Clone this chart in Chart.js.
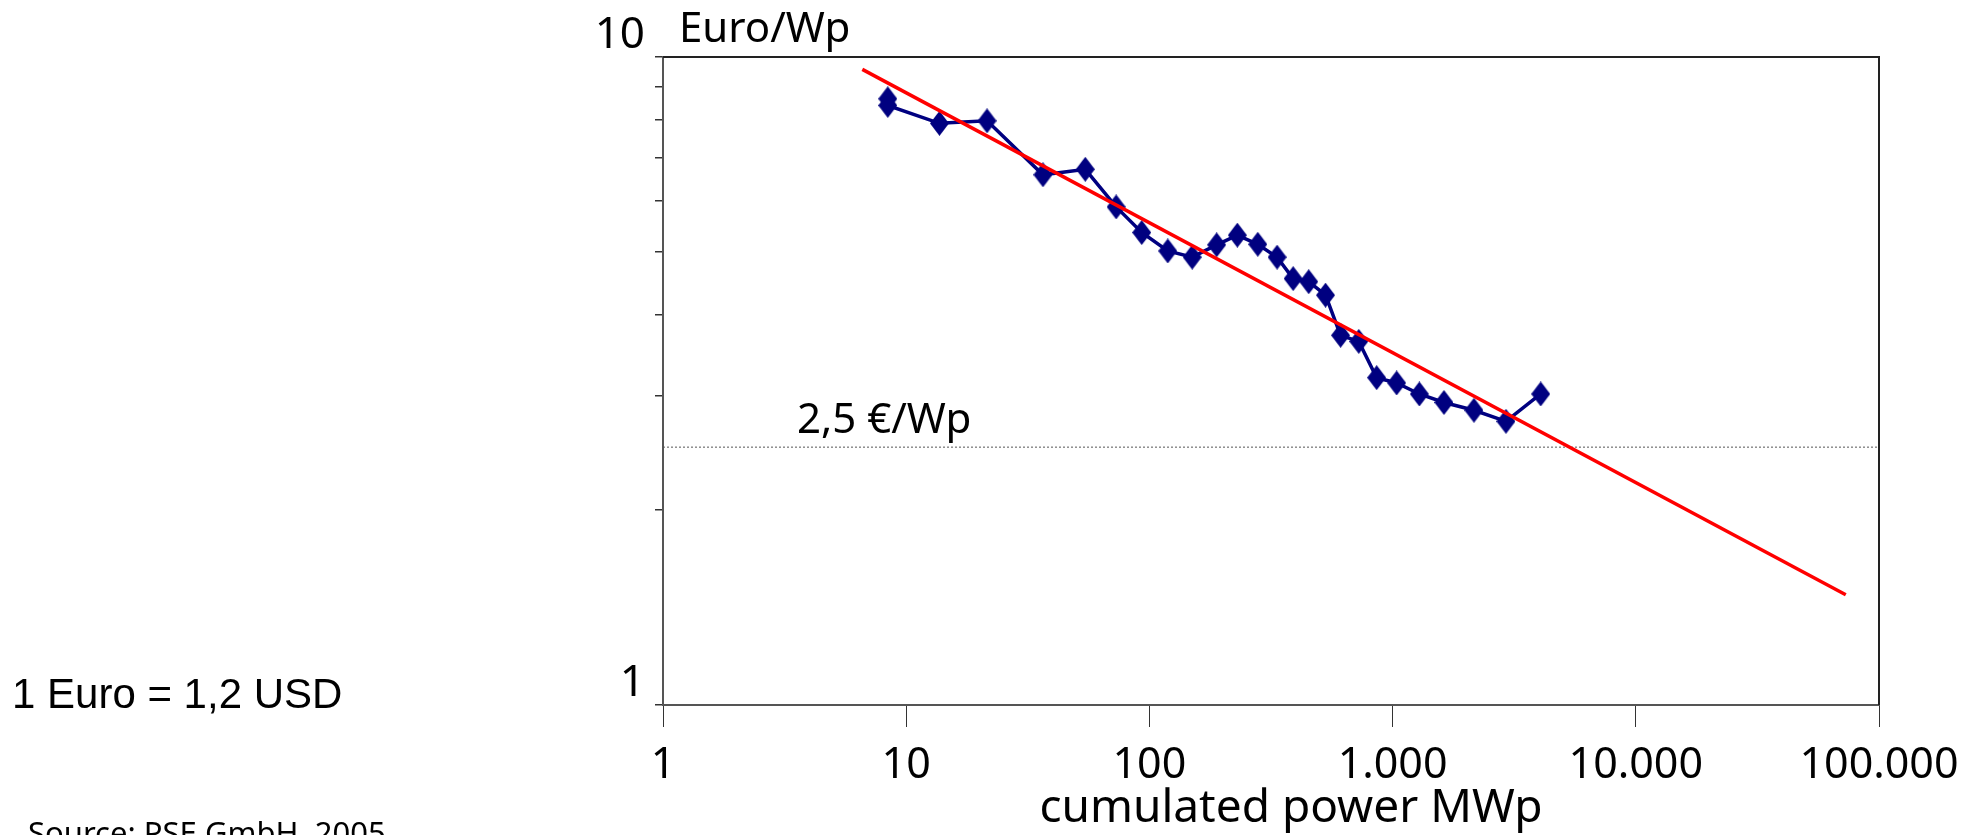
<!DOCTYPE html>
<html>
<head>
<meta charset="utf-8">
<script src="https://cdn.jsdelivr.net/npm/chart.js@4.4.0/dist/chart.umd.min.js"></script>
<style>
  html, body { margin: 0; padding: 0; background: #fff; }
  #wrap { width: 1966px; height: 835px; position: relative; }
</style>
</head>
<body>
<div id="wrap"><canvas id="costChart" width="1966" height="835"></canvas></div>
<script>
// measured module prices (Euro/Wp) over cumulated power (MWp)
var powerMWp = [8.4, 8.4, 13.7, 21.5, 36.5, 54.5, 73, 93, 119, 150, 189, 230, 279, 335, 390, 452, 530, 611, 726, 860, 1039, 1288, 1626, 2161, 2925, 4064];
var priceEuro = [8.62, 8.42, 7.9, 7.97, 6.58, 6.71, 5.87, 5.36, 5.02, 4.91, 5.13, 5.31, 5.14, 4.91, 4.55, 4.5, 4.29, 3.72, 3.64, 3.2, 3.14, 3.02, 2.93, 2.85, 2.74, 3.02];

// experience curve (red line) end points
var trendPower = [6.6, 73000];
var trendPrice = [9.57, 1.48];

// 2,5 Euro/Wp reference line
var refPower = [1, 100000];
var refPrice = [2.5, 2.5];

var xTickValues = [1, 10, 100, 1000, 10000, 100000];
var xTickLabels = ["1", "10", "100", "1.000", "10.000", "100.000"];
var yTickValues = [1, 2, 3, 4, 5, 6, 7, 8, 9, 10];
var yTickLabels = { 1: "1", 10: "10" };

function toPoints(xs, ys) {
  return xs.map(function (x, i) { return { x: x, y: ys[i] }; });
}

function makeDiamond(w, h, color) {
  var c = document.createElement("canvas");
  c.width = w;
  c.height = h;
  var g = c.getContext("2d");
  g.fillStyle = color;
  g.beginPath();
  g.moveTo(w / 2, 0);
  g.lineTo(w, h / 2);
  g.lineTo(w / 2, h);
  g.lineTo(0, h / 2);
  g.closePath();
  g.fill();
  return c;
}

var FRUT = "'Noto Sans', sans-serif";

var decorations = {
  id: "decorations",
  afterDraw: function (chart) {
    var ctx = chart.ctx;
    var area = chart.chartArea;
    var y = chart.scales.y;
    ctx.save();
    // frame top + right
    ctx.strokeStyle = "#222";
    ctx.lineWidth = 2;
    ctx.beginPath();
    ctx.moveTo(area.left, area.top);
    ctx.lineTo(area.right, area.top);
    ctx.lineTo(area.right, area.bottom);
    ctx.stroke();

    ctx.fillStyle = "#000";
    ctx.textBaseline = "alphabetic";
    ctx.textAlign = "left";
    ctx.font = "42px " + FRUT;
    ctx.fillText("Euro/Wp", 679, 42);
    ctx.fillText("2,5 \u20AC/Wp", 797, y.getPixelForValue(2.5) - 14);

    // x axis title
    ctx.textAlign = "center";
    ctx.font = "46px " + FRUT;
    ctx.fillText("cumulated power MWp", 1291, 822);

    ctx.textAlign = "left";
    ctx.font = "42px 'Liberation Sans', Arial, sans-serif";
    ctx.fillText("1 Euro = 1,2 USD", 12, 708);

    ctx.font = "31px " + FRUT;
    ctx.fillText("Source: PSE GmbH, 2005", 28, 844);
    ctx.restore();
  }
};

function initializeChart() {
  var el = document.getElementById("costChart");
  new Chart(el, {
    type: "line",
    data: {
      datasets: [
        {
          label: "trend",
          data: toPoints(trendPower, trendPrice),
          borderColor: "#ff0000",
          borderWidth: 3.5,
          pointRadius: 0,
          order: 0
        },
        {
          label: "price",
          data: toPoints(powerMWp, priceEuro),
          borderColor: "#000080",
          borderWidth: 3.5,
          pointStyle: makeDiamond(19, 25, "#000080"),
          pointRadius: 10,
          order: 1
        },
        {
          label: "2,5",
          data: toPoints(refPower, refPrice),
          borderColor: "#555",
          borderWidth: 1,
          borderDash: [2, 2],
          pointRadius: 0,
          order: 2
        }
      ]
    },
    options: {
      responsive: false,
      animation: false,
      events: [],
      layout: { padding: { top: 57, right: 87, left: 0, bottom: 0 } },
      plugins: {
        legend: { display: false },
        tooltip: { enabled: false }
      },
      scales: {
        x: {
          type: "logarithmic",
          min: 1,
          max: 100000,
          afterFit: function (s) {
            s.height = 130;
            s.paddingLeft = 0;
            s.paddingRight = 0;
          },
          afterBuildTicks: function (s) {
            s.ticks = xTickValues.map(function (v) { return { value: v }; });
          },
          border: { display: true, color: "#555", width: 2 },
          grid: { drawOnChartArea: false, drawTicks: true, tickLength: 22, color: "#333", lineWidth: 1 },
          ticks: {
            color: "#000",
            font: { family: FRUT, size: 43 },
            padding: 13,
            maxRotation: 0,
            autoSkip: false,
            callback: function (v) {
              var i = xTickValues.indexOf(v);
              return i >= 0 ? xTickLabels[i] : "";
            }
          }
        },
        y: {
          type: "logarithmic",
          min: 1,
          max: 10,
          afterFit: function (s) { s.width = 663; },
          afterBuildTicks: function (s) {
            s.ticks = yTickValues.map(function (v) { return { value: v }; });
          },
          border: { display: true, color: "#555", width: 2 },
          grid: { drawOnChartArea: false, drawTicks: true, tickLength: 8, color: "#333", lineWidth: 1.5 },
          ticks: {
            color: "#000",
            font: { family: FRUT, size: 44 },
            padding: 10,
            labelOffset: -22,
            autoSkip: false,
            callback: function (v) { return yTickLabels[v] || ""; }
          }
        }
      }
    },
    plugins: [decorations]
  });
}

window.onload = function () {
  initializeChart();
};
</script>
</body>
</html>
